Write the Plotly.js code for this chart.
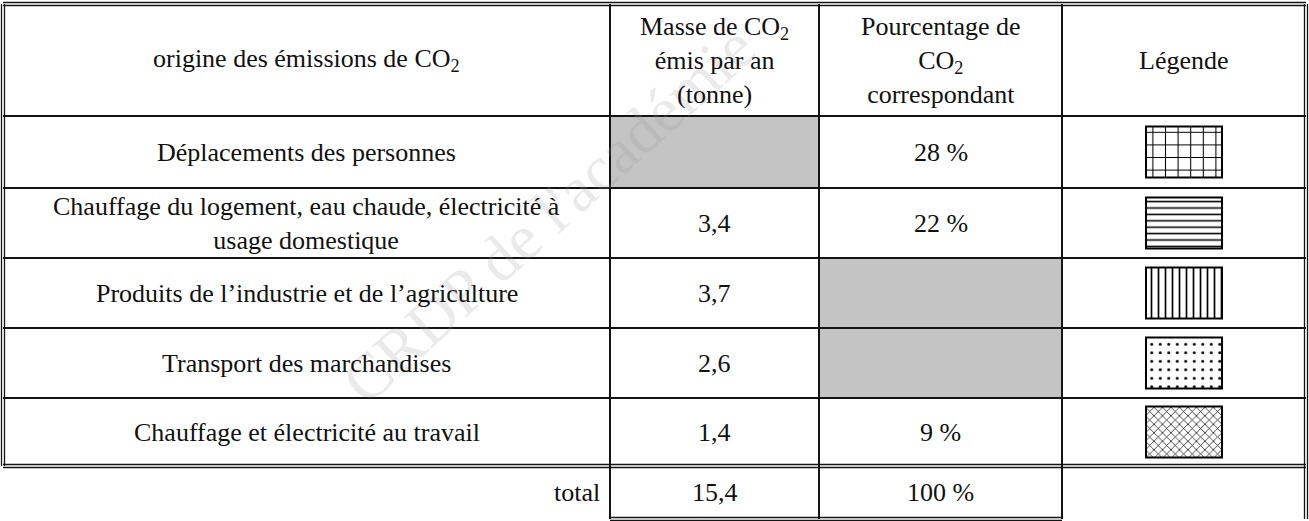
<!DOCTYPE html>
<html><head><meta charset="utf-8">
<script src="https://cdn.plot.ly/plotly-3.0.1.min.js"></script>
<style>html,body{margin:0;padding:0;background:#fff}#chart{width:1309px;height:521px}</style>
</head><body><div id="chart"></div>
<script>
// ---- data ----
const headers = ["origine des émissions de CO<sub>2</sub>",
  "Masse de CO<sub>2</sub><br>émis par an<br>(tonne)",
  "Pourcentage de<br>CO<sub>2</sub><br>correspondant",
  "Légende"];
const categories = ["Déplacements des personnes",
  "Chauffage du logement, eau chaude, électricité à<br>usage domestique",
  "Produits de l’industrie et de l’agriculture",
  "Transport des marchandises",
  "Chauffage et électricité au travail"];
const masses = [null, 3.4, 3.7, 2.6, 1.4];
const percents = [28, 22, null, null, 9];
const patterns = ["+", "-", "|", ".", "x"];
const totalLabel = "total";
const totalMass = 15.4;
const totalPercent = 100;
const watermark = "CRDP de l'académie";

// ---- geometry / style ----
const W = 1309, H = 521;
const colEdges = [3, 610, 819, 1062, 1306];
const rowEdges = [4, 116, 188, 258, 328, 398, 466, 519];
const FONT = {family: "Liberation Serif", size: 26, color: "#111"};
const patternStyle = {"+": [12.6, 0.16], "-": [6.4, 0.24], "|": [7, 0.24], ".": [8.5, 0.1], "x": [6, 0.22]};
const swW = 76, swH = 51;

const colMid = i => (colEdges[i] + colEdges[i + 1]) / 2;
const rowMid = i => (rowEdges[i] + rowEdges[i + 1]) / 2;
const fmtMass = v => v.toFixed(1).replace(".", ",");
const fmtPct = v => v + " %";

const shapes = [];
const annotations = [];

// watermark (drawn first, behind text)
annotations.push({xref: "x", yref: "y", x: 548, y: 214, text: watermark, showarrow: false,
  textangle: -42, font: {family: "Liberation Serif", size: 64, color: "rgba(150,150,150,0.2)"}});

// grey cells for missing values
const n = categories.length;
for (let r = 0; r < n; r++) {
  if (masses[r] === null) shapes.push({type: "rect", layer: "below", xref: "x", yref: "y",
    x0: colEdges[1], x1: colEdges[2], y0: rowEdges[r + 1], y1: rowEdges[r + 2], line: {width: 0}, fillcolor: "#c4c4c4"});
  if (percents[r] === null) shapes.push({type: "rect", layer: "below", xref: "x", yref: "y",
    x0: colEdges[2], x1: colEdges[3], y0: rowEdges[r + 1], y1: rowEdges[r + 2], line: {width: 0}, fillcolor: "#c4c4c4"});
}

// grid lines
const LC = "#141414";
function ln(x0, y0, x1, y1, w) {
  shapes.push({type: "line", xref: "x", yref: "y", x0, y0, x1, y1, line: {color: LC, width: w}});
}
function dbl(x0, y0, x1, y1) {
  if (y0 === y1) { ln(x0, y0 - 1.5, x1, y1 - 1.5, 1.3); ln(x0, y0 + 1.5, x1, y1 + 1.5, 1.3); }
  else { ln(x0 - 1.5, y0, x1 - 1.5, y1, 1.3); ln(x0 + 1.5, y0, x1 + 1.5, y1, 1.3); }
}
const lastBody = rowEdges[n + 1];
const bottom = rowEdges[n + 2];
dbl(colEdges[0], rowEdges[0], colEdges[4], rowEdges[0]);
for (let r = 1; r <= n; r++) ln(colEdges[0], rowEdges[r], colEdges[4], rowEdges[r], 2);
dbl(colEdges[0], lastBody, colEdges[4], lastBody);
dbl(colEdges[1], bottom, colEdges[3], bottom);
dbl(colEdges[0], rowEdges[0], colEdges[0], lastBody);
for (let c = 1; c <= 3; c++) ln(colEdges[c], rowEdges[0], colEdges[c], bottom, 2);
dbl(colEdges[4], rowEdges[0], colEdges[4], bottom);

// header texts
headers.forEach((h, c) => annotations.push({xref: "x", yref: "y", x: colMid(c), y: rowMid(0), text: h,
  showarrow: false, font: FONT, align: "center"}));

// body texts
for (let r = 0; r < n; r++) {
  annotations.push({xref: "x", yref: "y", x: colMid(0), y: rowMid(r + 1), text: categories[r], showarrow: false, font: FONT, align: "center"});
  if (masses[r] !== null) annotations.push({xref: "x", yref: "y", x: colMid(1), y: rowMid(r + 1), text: fmtMass(masses[r]), showarrow: false, font: FONT});
  if (percents[r] !== null) annotations.push({xref: "x", yref: "y", x: colMid(2), y: rowMid(r + 1), text: fmtPct(percents[r]), showarrow: false, font: FONT});
}
// total row
annotations.push({xref: "x", yref: "y", x: colEdges[1] - 8, y: rowMid(n + 1), text: totalLabel, xanchor: "right", showarrow: false, font: FONT});
annotations.push({xref: "x", yref: "y", x: colMid(1), y: rowMid(n + 1), text: fmtMass(totalMass), showarrow: false, font: FONT});
annotations.push({xref: "x", yref: "y", x: colMid(2), y: rowMid(n + 1), text: fmtPct(totalPercent), showarrow: false, font: FONT});

// legend swatches as patterned bars
const sw = {
  type: "bar",
  x: categories.map(() => colMid(3)),
  y: categories.map(() => swH),
  base: categories.map((_, r) => rowMid(r + 1) - swH / 2),
  width: categories.map(() => swW),
  marker: {
    color: "#000",
    line: {color: "#000", width: 2},
    pattern: {
      shape: patterns,
      size: patterns.map(p => patternStyle[p][0]),
      solidity: patterns.map(p => patternStyle[p][1]),
      fgcolor: "#000", bgcolor: "#fff", fillmode: "replace"
    }
  },
  hoverinfo: "skip", showlegend: false
};

const layout = {
  width: W, height: H,
  margin: {l: 0, r: 0, t: 0, b: 0},
  paper_bgcolor: "#fff", plot_bgcolor: "#fff",
  font: {family: "Liberation Serif"},
  xaxis: {range: [0, W], visible: false, fixedrange: true},
  yaxis: {range: [H, 0], visible: false, fixedrange: true},
  barmode: "overlay",
  shapes, annotations, showlegend: false
};
Plotly.newPlot("chart", [sw], layout, {displayModeBar: false, staticPlot: true});
</script></body></html>
